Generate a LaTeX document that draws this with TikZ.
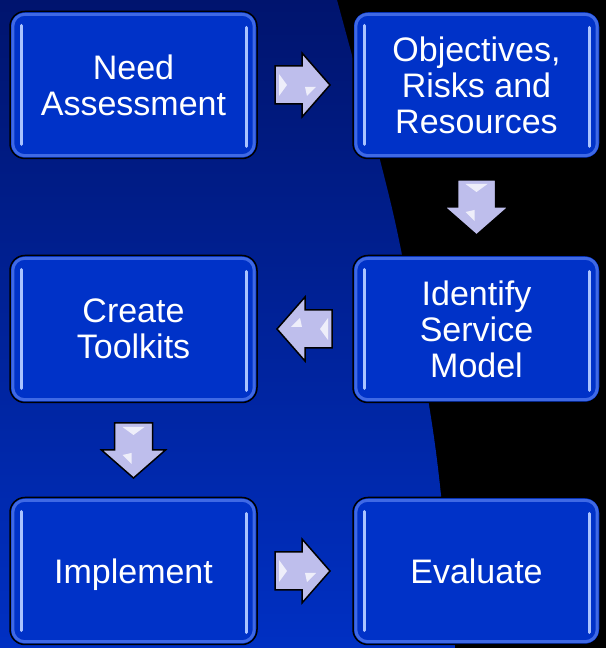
\documentclass[tikz,border=0pt]{standalone}
\usepackage{fontspec}
\setmainfont{Liberation Sans}
\usetikzlibrary{positioning, calc}

\definecolor{navytop}{RGB}{0,20,110}
\definecolor{navybottom}{RGB}{0,48,195}
\definecolor{boxblue}{RGB}{0,50,200}
\definecolor{glowblue}{RGB}{75,115,235}
\definecolor{shineblue}{RGB}{170,195,255}
\definecolor{arrowlilac}{RGB}{190,190,236}

\tikzset{
  stage/.style={draw=black, line width=1.5pt, fill=boxblue, rounded corners=15pt,
    minimum width=247pt, minimum height=147pt, inner sep=0pt, outer sep=0pt,
    text=white, align=center, font=\fontsize{34}{36}\selectfont},
  glow/.style={draw=glowblue, line width=3pt, rounded corners=12pt, opacity=0.85},
  shine/.style={draw=shineblue, line width=3pt, line cap=round},
  flowarrow/.pic={
    \filldraw[fill=arrowlilac, draw=black, line width=1.5pt]
      (-27,-19) -- (0,-19) -- (0,-32) -- (28,0) -- (0,32) -- (0,19) -- (-27,19) -- cycle;
    % glossy bevel spots
    \fill[white, opacity=0.75] (-23,-11) -- (-15,0) -- (-23,11) -- cycle;
    \fill[white, opacity=0.75] (3,-2) -- (14,-2) -- (5,-11) -- cycle;
  }
}

\begin{document}
\begin{tikzpicture}[x=1pt, y=1pt]
  % background: black with a blue sweep on the left
  \fill[black] (0,0) rectangle (606,648);
  \shade[top color=navytop, bottom color=navybottom]
    (0,0) -- (0,648) -- plot[smooth] coordinates {(337,648) (380,488) (401,398) (429,243) (441,153) (455,0)} -- cycle;
  \useasboundingbox (0,0) rectangle (606,648);

  % the six stages
  \node[stage] (need) at (133.5,563) {Need\\Assessment};
  \node[stage, right=96pt of need] (goals) {Objectives,\\Risks and\\Resources};
  \node[stage, below=97pt of goals] (model) {Identify\\Service\\Model};
  \node[stage, below=97pt of need] (toolkits) {Create\\Toolkits};
  \node[stage, below=95pt of toolkits, text depth=0pt] (implement) {Implement};
  \node[stage, below=95pt of model] (evaluate) {Evaluate};

  % inner glow and side highlights
  \foreach \n in {need, goals, model, toolkits, implement, evaluate} {
    \draw[glow] ([shift={(2.8pt,2.8pt)}]\n.south west) rectangle ([shift={(-2.8pt,-2.8pt)}]\n.north east);
    \draw[shine] ([shift={(11pt,-14pt)}]\n.north west) -- ([shift={(11pt,14pt)}]\n.south west);
    \draw[shine] ([shift={(-11pt,-16pt)}]\n.north east) -- ([shift={(-11pt,12pt)}]\n.south east);
  }

  % block arrows between stages
  \pic at ($(need.east)!0.5!(goals.west)+(-3pt,0)$) {flowarrow};
  \pic[rotate=-90] at ($(goals.south)!0.5!(model.north)$) {flowarrow};
  \pic[rotate=180] at ($(model.west)!0.5!(toolkits.east)$) {flowarrow};
  \pic[rotate=-90] at ($(toolkits.south)!0.5!(implement.north)$) {flowarrow};
  \pic at ($(implement.east)!0.5!(evaluate.west)+(-3pt,0)$) {flowarrow};
\end{tikzpicture}
\end{document}
